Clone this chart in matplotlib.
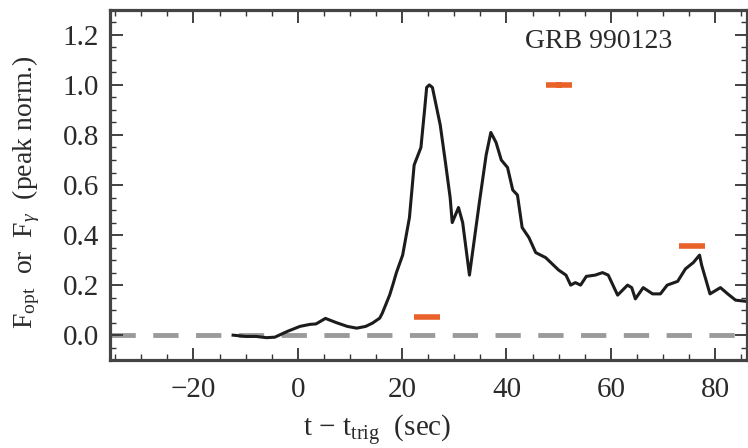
import numpy as np
import matplotlib.pyplot as plt
from matplotlib.ticker import MultipleLocator

plt.rcParams['font.family'] = ['Liberation Serif', 'DejaVu Serif']
plt.rcParams['mathtext.fontset'] = 'custom'
plt.rcParams['mathtext.rm'] = 'Liberation Serif'
plt.rcParams['mathtext.it'] = 'Liberation Serif:italic'

# gamma-ray light curve (peak normalised)
t_gamma = [-12.4, -10, -8, -6, -4.4, -2, 0.4, 2.3, 3.5, 5.3, 7.4, 9.5, 11.3, 13,
           14.3, 15.7, 16.2, 17.6, 18.2, 18.9, 20.1, 21.4, 22.3, 23.6, 24.3, 24.7,
           25.2, 25.8, 27.3, 28.3, 29.2, 29.6, 30.8, 31.6, 32.9, 34.8, 36.1, 37.0,
           38.0, 39.0, 40.2, 41.2, 42.1, 43.0, 44.3, 45.6, 47.5, 48.5, 50, 51.4,
           52.3, 53.2, 54.2, 55.3, 57, 58.4, 59.5, 61.3, 63.2, 64.0, 64.7, 66.2,
           68.0, 69.5, 70.8, 72.8, 74.3, 75.8, 77.0, 77.4, 79.0, 81.0, 82.4, 83.9,
           86.0]
f_gamma = [0.0, -0.005, -0.005, -0.01, -0.008, 0.015, 0.035, 0.043, 0.045, 0.067,
           0.05, 0.035, 0.028, 0.035, 0.048, 0.068, 0.088, 0.16, 0.2, 0.25, 0.32,
           0.47, 0.68, 0.75, 0.90, 0.99, 1.0, 0.99, 0.84, 0.69, 0.55, 0.45, 0.51,
           0.45, 0.24, 0.53, 0.72, 0.81, 0.77, 0.70, 0.67, 0.58, 0.56, 0.43, 0.39,
           0.33, 0.31, 0.29, 0.26, 0.24, 0.20, 0.21, 0.20, 0.235, 0.24, 0.25, 0.24,
           0.16, 0.20, 0.19, 0.145, 0.19, 0.165, 0.165, 0.20, 0.215, 0.265, 0.29,
           0.32, 0.28, 0.165, 0.19, 0.165, 0.14, 0.135]

# optical points (ROTSE) with time bins
t_opt = [24.7, 50.0, 75.5]
t_opt_err = [2.5, 2.5, 2.5]
f_opt = [0.072, 1.0, 0.355]
f_opt_err = [0.0, 0.012, 0.0]

fig = plt.figure(figsize=(7.48, 4.48), dpi=100)
ax = fig.add_axes([0.147, 0.196, 0.851, 0.782])

ax.axhline(0, color='#9a9a9a', lw=3.5, ls=(0, (5.2, 3.6)), zorder=1)
ax.plot(t_gamma, f_gamma, color='#1c1c1c', lw=2.2, zorder=2)
ax.errorbar(t_opt, f_opt, xerr=t_opt_err, yerr=f_opt_err, fmt='none',
            ecolor='#e8622a', elinewidth=4, capsize=0, zorder=3)

ax.set_xlim(-36, 86)
ax.set_ylim(-0.1, 1.3)
ax.xaxis.set_major_locator(MultipleLocator(20))
ax.xaxis.set_minor_locator(MultipleLocator(5))
ax.yaxis.set_major_locator(MultipleLocator(0.2))
ax.yaxis.set_minor_locator(MultipleLocator(0.05))
ax.yaxis.set_major_formatter(plt.FormatStrFormatter('%.1f'))
ax.tick_params(which='both', direction='in', top=True, right=True,
               color='#333333', labelsize=21, labelcolor='#2a2a2a')
ax.tick_params(which='major', length=9, width=1.3, pad=8)
ax.tick_params(which='minor', length=4, width=1.0)
ax.tick_params(axis='x', which='major', pad=12)
for s in ax.spines.values():
    s.set_linewidth(2.3)
    s.set_color('#444444')

ax.text(0.884, 0.91, 'GRB 990123', transform=ax.transAxes, ha='right', va='center',
        fontsize=20, color='#2a2a2a')
ax.set_xlabel(r't $-$ t$_{\rm trig}$  (sec)', fontsize=21, color='#2a2a2a')
ax.xaxis.set_label_coords(0.42, -0.15)
ax.set_ylabel(r'F$_{\rm opt}$  or  F$_\gamma$  (peak norm.)', fontsize=20,
              color='#2a2a2a')
ax.yaxis.set_label_coords(-0.106, 0.48)

plt.savefig('out.png', dpi=100)
